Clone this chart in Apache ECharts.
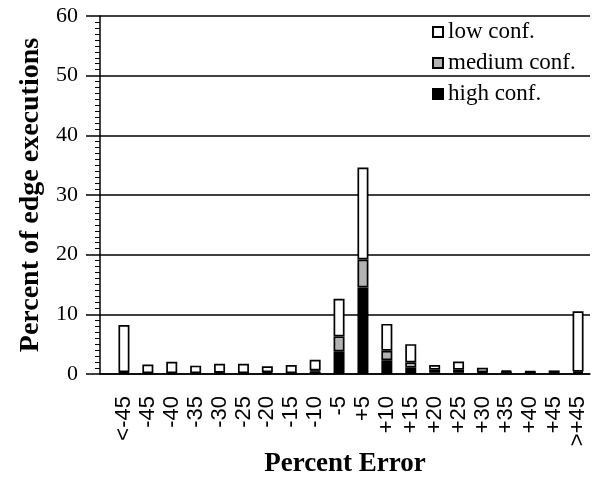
<!DOCTYPE html>
<html>
<head>
<meta charset="utf-8">
<script src="https://cdn.jsdelivr.net/npm/echarts@6/dist/echarts.min.js"></script>
<style>html,body{margin:0;padding:0;background:#fff;}#c{width:597px;height:491px;}</style>
</head>
<body>
<div id="c"></div>
<script>
const categories = ['<-45','-45','-40','-35','-30','-25','-20','-15','-10','-5','+5','+10','+15','+20','+25','+30','+35','+40','+45','>+45'];
// stacked segments (percent of edge executions)
const highConf   = [0.2, 0.1, 0.1, 0.1, 0.1, 0.1, 0.15, 0.1, 0.4, 3.8, 14.5, 2.3, 1.05, 0.3, 0.3, 0.2, 0.3, 0.3, 0.1, 0.2];
const mediumConf = [0.1, 0.05, 0.05, 0.05, 0.1, 0.05, 0.15, 0.05, 0.2, 2.5, 4.7, 1.6, 0.9, 0.4, 0.4, 0.1, 0.1, 0.05, 0.1, 0.2];
const lowConf    = [7.9, 1.45, 1.9, 1.25, 1.5, 1.55, 1.0, 1.35, 1.8, 6.3, 15.4, 4.5, 3.05, 0.8, 1.4, 0.75, 0.2, 0.1, 0.4, 10.1];
const yTicks = [0, 10, 20, 30, 40, 50, 60];

const serif = '"Liberation Serif", "DejaVu Serif", serif';
const sans = '"Liberation Sans", Arial, sans-serif';

const barStyle = (color)=>({color: color, borderColor:'#000', borderWidth:1.7});
const yMin = yTicks[0], yMax = yTicks[yTicks.length-1];

const chart = echarts.init(document.getElementById('c'), null, {renderer:'canvas'});
chart.setOption({
  animation:false,
  backgroundColor:'#fff',
  grid:[
    {left:100, right:7, top:16, bottom:117},   // frame: y axis, gridlines, baseline
    {left:112, right:7, top:16, bottom:117}    // bars
  ],
  legend:{
    orient:'vertical', left:427, top:15,
    itemWidth:10, itemHeight:10, itemGap:7,
    icon:'rect',
    textStyle:{fontFamily:serif, fontSize:23, color:'#000', lineHeight:24},
    data:['low conf.','medium conf.','high conf.']
  },
  xAxis:[
    {
      gridIndex:0, type:'value', min:0, max:1,
      splitLine:{show:false},
      axisLine:{show:true, onZero:false, lineStyle:{color:'#000', width:1.5}},
      axisTick:{show:false},
      axisLabel:{show:false},
      name:'Percent Error', nameLocation:'middle', nameGap:77,
      nameTextStyle:{fontFamily:serif, fontSize:27, fontWeight:'bold', color:'#000'}
    },
    {
      gridIndex:1, type:'category', data:categories, boundaryGap:true,
      axisLine:{show:false},
      axisTick:{show:false},
      axisLabel:{rotate:90, margin:22, interval:0, fontFamily:sans, fontSize:22, color:'#000'}
    }
  ],
  yAxis:[
    {
      gridIndex:0, type:'value', min:yMin, max:yMax, interval:10,
      axisLine:{show:true, onZero:false, lineStyle:{color:'#000', width:1.5}},
      axisTick:{show:true, length:14, lineStyle:{color:'#000', width:1.5}},
      minorTick:{show:true, splitNumber:10, length:5, lineStyle:{color:'#000', width:1}},
      splitLine:{show:true, lineStyle:{color:'#000', width:1.5}},
      axisLabel:{margin:22, fontFamily:serif, fontSize:22, color:'#000'},
      name:'Percent of edge executions', nameLocation:'middle', nameGap:55,
      nameTextStyle:{fontFamily:serif, fontSize:28, fontWeight:'bold', color:'#000'}
    },
    {
      gridIndex:1, type:'value', min:yMin, max:yMax, interval:10,
      axisLine:{show:false}, axisTick:{show:false}, axisLabel:{show:false}, splitLine:{show:false}
    }
  ],
  series:[
    {name:'high conf.', type:'bar', xAxisIndex:1, yAxisIndex:1, stack:'s', barWidth:11, data:highConf, itemStyle:barStyle('#000')},
    {name:'medium conf.', type:'bar', xAxisIndex:1, yAxisIndex:1, stack:'s', barWidth:11, data:mediumConf, itemStyle:barStyle('#b3b3b3')},
    {name:'low conf.', type:'bar', xAxisIndex:1, yAxisIndex:1, stack:'s', barWidth:11, data:lowConf, itemStyle:barStyle('#fff')}
  ]
});
</script>
</body>
</html>
